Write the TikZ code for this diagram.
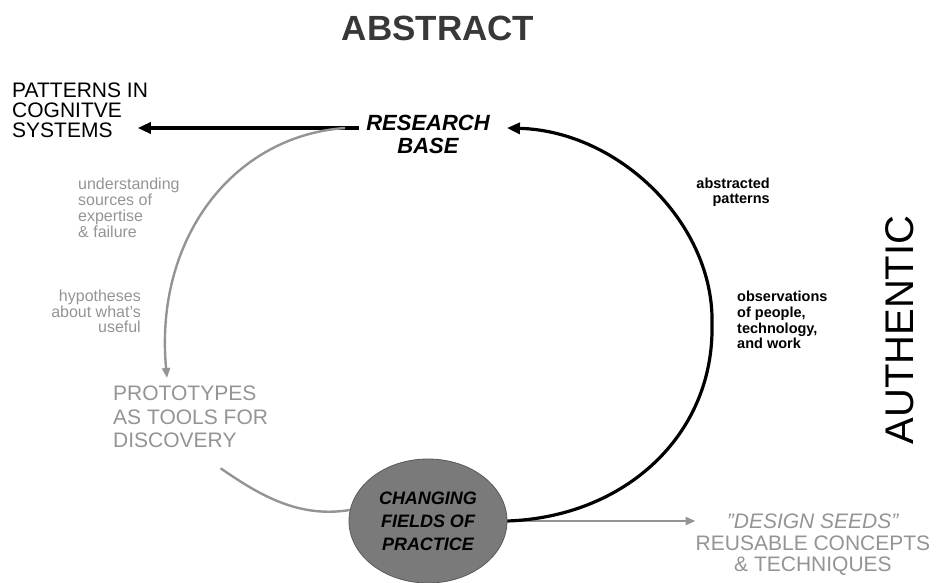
\documentclass[tikz,border=0pt]{standalone}
\usepackage{fontspec}
\setmainfont{Liberation Sans}
\usetikzlibrary{arrows.meta,shapes.geometric}
\newcommand\myfs[2]{\fontsize{#1}{#2}\selectfont}
\begin{document}
\begin{tikzpicture}[x=1pt,y=-1pt,
  txt/.style={inner sep=0pt},
  graytxt/.style={txt,text=black!42},
  blkline/.style={line width=3.2pt,black},
  grayline/.style={line width=2.4pt,black!42},
  blktip/.style={-{Triangle[length=13pt,width=11pt]}},
  graytip/.style={-{Triangle[length=10pt,width=8pt]}}
]
\useasboundingbox (0,0) rectangle (938,583);

% titles
\node[txt,font=\myfs{35}{40}\bfseries,text=black!78] (abstract) at (438,28) {ABSTRACT};
\node[txt,font=\myfs{40}{44},rotate=90] (authentic) at (900,330) {AUTHENTIC};

% left black labels
\node[txt,font=\myfs{21}{20},anchor=west] (pat1) at (12,90) {PATTERNS IN};
\node[txt,font=\myfs{21}{20},anchor=west] (pat2) at (12,110) {COGNITVE};
\node[txt,font=\myfs{21}{20},anchor=west] (systems) at (12,130) {SYSTEMS};

% research base
\node[txt,font=\myfs{22}{24}\bfseries\itshape] (research) at (428,123) {RESEARCH};
\node[txt,font=\myfs{22}{24}\bfseries\itshape] (base) at (428,146) {BASE};

% ellipse
\node[ellipse,minimum width=158pt,minimum height=124pt,fill=black!52,draw=black!65,
      line width=0.8pt,inner sep=0pt,font=\myfs{18}{23}\bfseries\itshape,align=center]
      (ell) at (428,521) {CHANGING\\FIELDS OF\\PRACTICE};

% gray texts
\node[graytxt,font=\myfs{16}{15.8},align=left,anchor=north west] (under) at (78,178)
  {understanding\\sources of\\expertise\\\& failure};
\node[graytxt,font=\myfs{16}{15.6},align=right,anchor=north east] (hyp) at (141,290)
  {hypotheses\\about what's\\useful};
\node[graytxt,font=\myfs{21}{23.5},align=left,anchor=north west] (proto) at (113,386)
  {PROTOTYPES\\AS TOOLS FOR\\DISCOVERY};
\node[graytxt,font=\myfs{21}{21.5},align=center,anchor=north] (seeds) at (813,514)
  {\textit{"DESIGN SEEDS"}\\REUSABLE CONCEPTS\\\& TECHNIQUES};

% right black labels
\node[txt,font=\myfs{14.5}{15}\bfseries,align=right,anchor=north east] (abs) at (770,178)
  {abstracted\\patterns};
\node[txt,font=\myfs{14.5}{15.7}\bfseries,align=left,anchor=north west] (obs) at (737,291)
  {observations\\of people,\\technology,\\and work};

% connectors
\coordinate (rw) at ([xshift=-7pt,yshift=-5pt]research.west);
\coordinate (re) at ([xshift=17pt,yshift=-5pt]research.east);
\coordinate (stip) at ([xshift=25pt]systems.east);
\coordinate (hyptip) at (167,378);

\draw[blkline,blktip] (rw) -- (stip |- rw);

\draw[grayline,graytip] ([xshift=-14pt]rw)
  .. controls (232,136) and (154,240) .. (hyptip);

\draw[grayline] ([xshift=30pt,yshift=-20pt]proto.south)
  .. controls (262,497) and (300,518) .. (ell.172);

\draw[grayline,graytip] (ell.east) -- (ell.east -| seeds.west);

\draw[blkline,blktip] (ell.east)
  .. controls (625,517) and (714,435) .. (712,325)
  .. controls (715,225) and (620,131) .. (re);
\end{tikzpicture}
\end{document}
